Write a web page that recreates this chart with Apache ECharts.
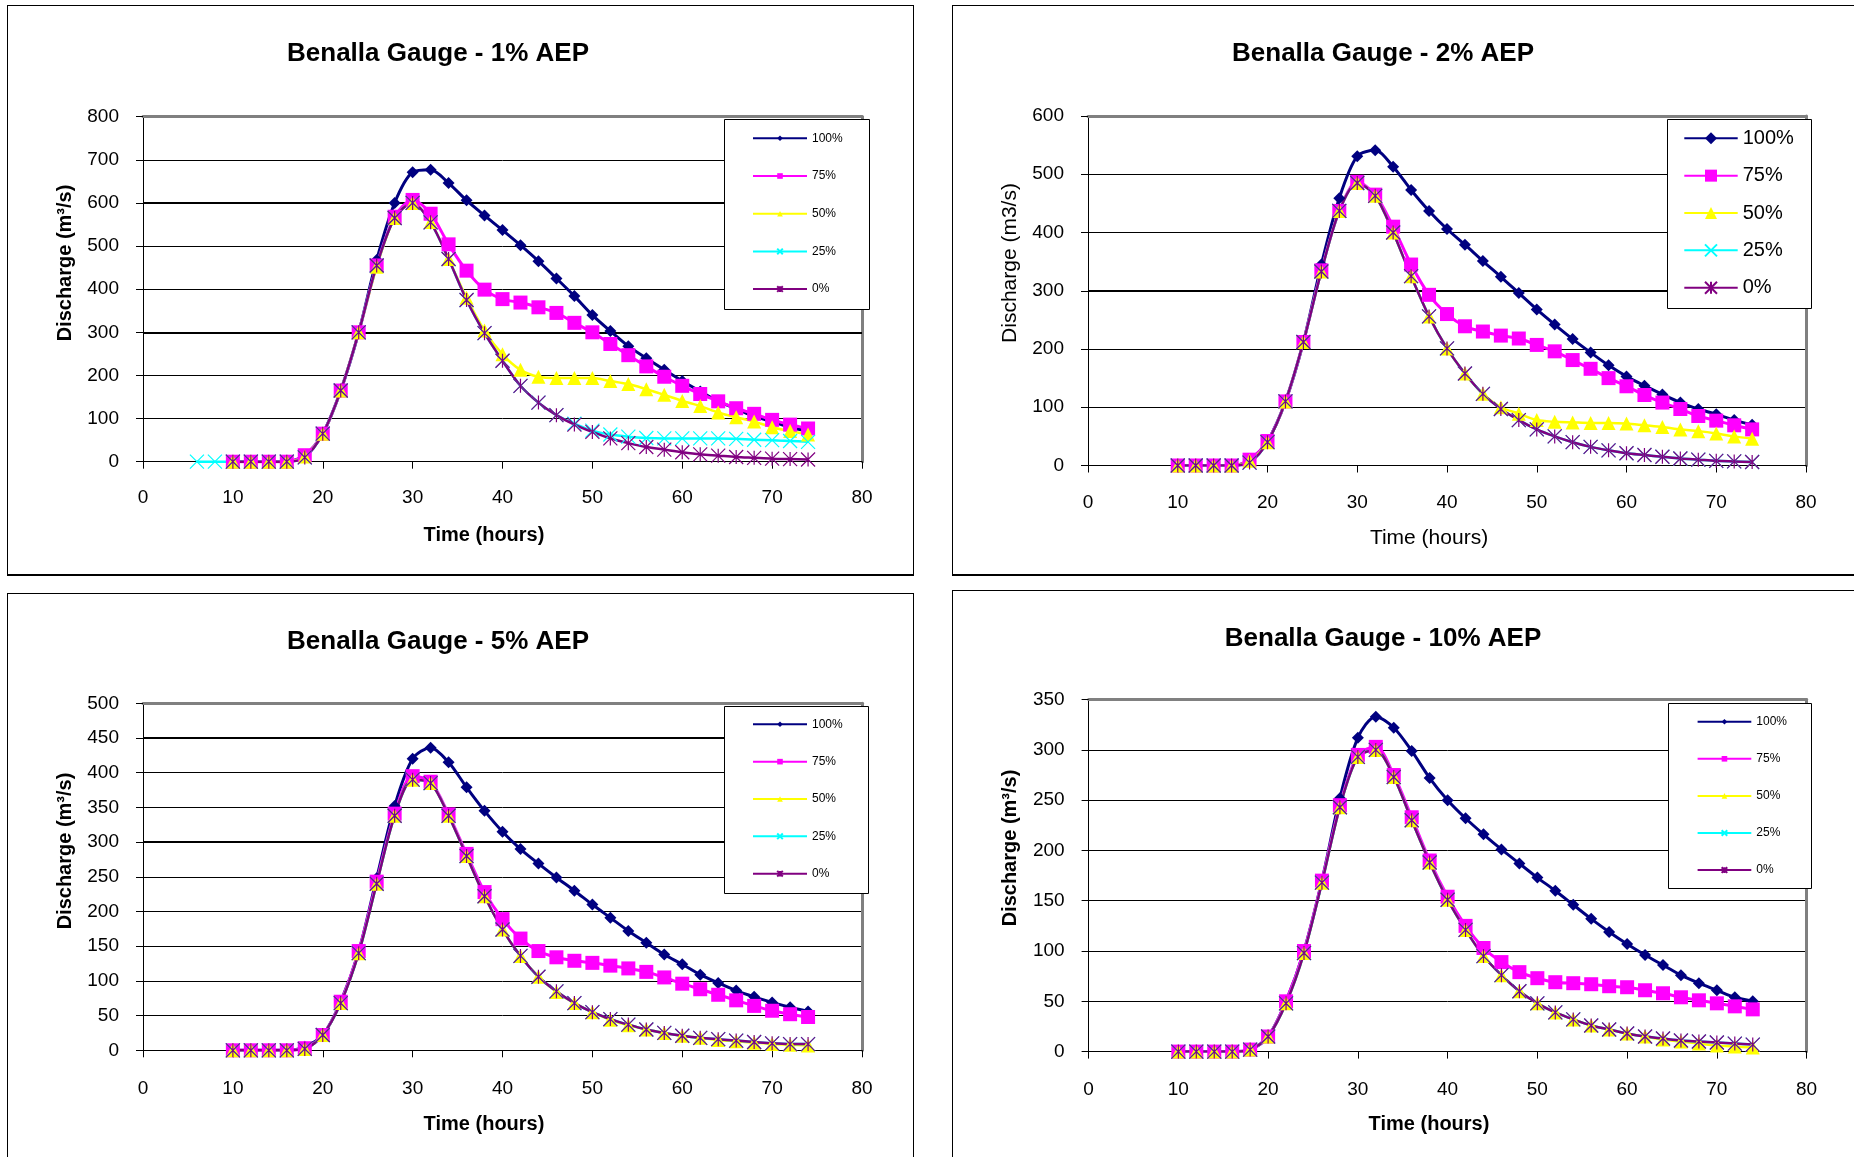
<!DOCTYPE html>
<html>
<head>
<meta charset="utf-8">
<title>Benalla Gauge hydrographs</title>
<script src="https://cdn.jsdelivr.net/npm/echarts@6/dist/echarts.min.js"></script>
<style>
  html, body { margin: 0; padding: 0; background: #fff; width: 1854px; height: 1157px; overflow: hidden; }
  .chart-box { position: absolute; border: 1px solid #000; background: #fff; }
  .chart-box.upper { border-bottom-width: 2px; }
</style>
</head>
<body>
<div id="c1" class="chart-box upper" style="left:7px;top:5px;width:905px;height:568px"></div>
<div id="c2" class="chart-box upper" style="left:952px;top:5px;width:905px;height:568px"></div>
<div id="c3" class="chart-box" style="left:7px;top:593px;width:905px;height:570px"></div>
<div id="c4" class="chart-box" style="left:952px;top:590px;width:905px;height:570px"></div>
<script>
// time axis (hours)
const hours = [10, 12, 14, 16, 18, 20, 22, 24, 26, 28, 30, 32, 34, 36, 38, 40, 42, 44, 46, 48, 50, 52, 54, 56, 58, 60, 62, 64, 66, 68, 70, 72, 74]
const hoursFrom6 = [6, 8, 10, 12, 14, 16, 18, 20, 22, 24, 26, 28, 30, 32, 34, 36, 38, 40, 42, 44, 46, 48, 50, 52, 54, 56, 58, 60, 62, 64, 66, 68, 70, 72, 74]

const chartTitles = ['Benalla Gauge - 1% AEP', 'Benalla Gauge - 2% AEP', 'Benalla Gauge - 5% AEP', 'Benalla Gauge - 10% AEP']
const seriesNames = ['100%', '75%', '50%', '25%', '0%']

// 1% AEP discharge (m3/s)
const aep1_100 = [0, 0, 0, 0, 15, 65, 165, 300, 468, 600, 671, 677, 646, 606, 571, 537, 502, 465, 425, 384, 340, 303, 268, 240, 213, 187, 163, 140, 123, 105, 93, 80, 71]
const aep1_75 = [0, 0, 0, 0, 15, 65, 165, 300, 455, 568, 607, 575, 504, 443, 399, 377, 369, 358, 345, 322, 300, 273, 247, 221, 197, 176, 157, 140, 124, 111, 97, 86, 77]
const aep1_50 = [0, 0, 0, 0, 12, 65, 165, 300, 452, 565, 600, 556, 470, 380, 304, 249, 213, 197, 194, 194, 194, 187, 180, 168, 155, 141, 129, 114, 103, 93, 80, 71, 63]
const aep1_25 = [0, 0, 0, 0, 0, 0, 10, 65, 165, 300, 455, 565, 600, 555, 470, 375, 298, 234, 176, 137, 108, 88, 72, 63, 58, 55, 54, 54, 54, 54, 53, 51, 50, 48, 46]
const aep1_0 = [0, 0, 0, 0, 10, 65, 165, 300, 455, 565, 600, 555, 470, 375, 298, 234, 176, 137, 108, 86, 69, 54, 43, 34, 28, 22, 17, 14, 11, 9, 7, 6, 5]

// 2% AEP
const aep2_100 = [0, 0, 0, 0, 10, 42, 110, 212, 345, 459, 531, 541, 513, 473, 437, 406, 379, 351, 324, 296, 268, 242, 217, 194, 172, 153, 137, 122, 108, 97, 88, 78, 70]
const aep2_75 = [0, 0, 0, 0, 10, 42, 110, 212, 335, 437, 487, 465, 410, 345, 293, 260, 239, 230, 223, 218, 207, 196, 181, 166, 150, 136, 121, 108, 97, 85, 77, 69, 62]
const aep2_50 = [0, 0, 0, 0, 8, 40, 110, 212, 333, 437, 485, 463, 400, 325, 256, 201, 158, 123, 100, 89, 78, 75, 74, 73, 73, 72, 69, 66, 62, 59, 55, 50, 46]
const aep2_25 = [0, 0, 0, 0, 5, 40, 110, 212, 333, 437, 485, 463, 400, 325, 256, 201, 158, 123, 97, 78, 62, 50, 40, 32, 26, 21, 18, 15, 12, 10, 8, 7, 6]
const aep2_0 = [0, 0, 0, 0, 5, 40, 110, 212, 333, 437, 485, 463, 400, 325, 256, 201, 158, 123, 97, 78, 62, 50, 40, 32, 26, 21, 18, 15, 12, 10, 8, 7, 6]

// 5% AEP
const aep5_100 = [0, 0, 0, 0, 5, 22, 70, 142, 248, 352, 420, 436, 415, 379, 345, 315, 290, 269, 249, 230, 210, 191, 172, 155, 138, 124, 109, 97, 86, 77, 69, 62, 56]
const aep5_75 = [0, 0, 0, 0, 3, 22, 70, 143, 243, 341, 395, 387, 340, 283, 228, 189, 161, 143, 134, 129, 126, 122, 118, 113, 105, 96, 88, 80, 72, 64, 57, 52, 48]
const aep5_50 = [0, 0, 0, 0, 2, 22, 68, 140, 240, 338, 390, 385, 338, 280, 222, 174, 136, 106, 84, 68, 55, 44, 36, 30, 25, 21, 18, 15, 13, 11, 9, 8, 7]
const aep5_25 = [0, 0, 0, 0, 2, 22, 68, 140, 240, 338, 390, 385, 338, 280, 222, 174, 136, 106, 85, 68, 55, 45, 37, 30, 25, 21, 18, 16, 14, 12, 10, 9, 9]
const aep5_0 = [0, 0, 0, 0, 2, 22, 68, 140, 240, 338, 390, 385, 338, 280, 222, 174, 136, 106, 85, 68, 55, 45, 37, 30, 25, 21, 18, 16, 14, 12, 10, 9, 9]

// 10% AEP
const aep10_100 = [0, 0, 0, 0, 2, 15, 50, 100, 170, 252, 312, 333, 322, 299, 272, 250, 232, 216, 201, 187, 173, 160, 146, 132, 119, 107, 96, 86, 76, 68, 61, 54, 50]
const aep10_75 = [0, 0, 0, 0, 2, 15, 50, 100, 170, 245, 295, 303, 275, 233, 190, 154, 125, 103, 89, 79, 73, 69, 68, 67, 65, 64, 61, 58, 54, 51, 48, 45, 42]
const aep10_50 = [0, 0, 0, 0, 2, 15, 48, 98, 168, 243, 293, 300, 273, 230, 188, 151, 121, 95, 76, 60, 48, 39, 32, 26, 22, 18, 15, 12, 10, 8, 6, 5, 4]
const aep10_25 = [0, 0, 0, 0, 2, 15, 48, 98, 168, 243, 293, 300, 273, 230, 188, 151, 121, 95, 76, 60, 48, 39, 32, 26, 22, 18, 15, 13, 11, 10, 9, 8, 7]
const aep10_0 = [0, 0, 0, 0, 2, 15, 48, 98, 168, 243, 293, 300, 273, 230, 188, 151, 121, 95, 76, 60, 48, 39, 32, 26, 22, 18, 15, 13, 11, 10, 9, 8, 7]

const FONT = 'Arial, "Liberation Sans", sans-serif'
const SYMBOL_X = 'path://M0,0L10,10M10,0L0,10'
const SYMBOL_STAR = 'path://M0,0L10,10M10,0L0,10M5,0L5,10'

const seriesStyles = [
  { color: '#000080', symbol: 'diamond', size: 12, width: 3 },
  { color: '#ff00ff', symbol: 'rect', size: 14, width: 3 },
  { color: '#ffff00', symbol: 'triangle', size: 14, width: 2.5 },
  { color: '#00ffff', symbol: SYMBOL_X, size: 14, width: 2.5, stroke: 1.2 },
  { color: '#800080', symbol: SYMBOL_STAR, size: 14, width: 2.5, stroke: 1.2 }
]

const charts = [
  {
    el: 'c1', title: chartTitles[0], yMax: 800, yStep: 100,
    xs: [hours, hours, hours, hoursFrom6, hours],
    ys: [aep1_100, aep1_75, aep1_50, aep1_25, aep1_0],
    grid: { left: 135, top: 110.7, width: 719, height: 345 },
    heavyLines: [600, 300],
    yName: 'Discharge (m³/s)', bold: true, xNameY: 529, labelGap: 27,
    legendBox: [716.5, 113.5, 145, 190],
    legend: { left: 744, top: 125.3, itemWidth: 54, itemHeight: 7, itemGap: 23.7, fontSize: 12, lineHeight: 14 }
  },
  {
    el: 'c2', title: chartTitles[1], yMax: 600, yStep: 100,
    xs: [hours, hours, hours, hours, hours],
    ys: [aep2_100, aep2_75, aep2_50, aep2_25, aep2_0],
    grid: { left: 135, top: 110, width: 718, height: 349.5 },
    heavyLines: [300],
    yName: 'Discharge (m3/s)', bold: false, xNameY: 532, labelGap: 28,
    legendBox: [714.5, 113.5, 144, 189],
    legend: { left: 730.3, top: 122.3, itemWidth: 53.4, itemHeight: 15, itemGap: 17.35, fontSize: 20, lineHeight: 20 }
  },
  {
    el: 'c3', title: chartTitles[2], yMax: 500, yStep: 50,
    xs: [hours, hours, hours, hours, hours],
    ys: [aep5_100, aep5_75, aep5_50, aep5_25, aep5_0],
    grid: { left: 135, top: 109.3, width: 719, height: 347 },
    heavyLines: [450, 300],
    yName: 'Discharge (m³/s)', bold: true, xNameY: 530, labelGap: 28.5,
    legendBox: [716.5, 112.5, 144, 187],
    legend: { left: 744, top: 123.3, itemWidth: 54, itemHeight: 7, itemGap: 23.35, fontSize: 12, lineHeight: 14 }
  },
  {
    el: 'c4', title: chartTitles[3], yMax: 350, yStep: 50,
    xs: [hours, hours, hours, hours, hours],
    ys: [aep10_100, aep10_75, aep10_50, aep10_25, aep10_0],
    grid: { left: 135.6, top: 108.6, width: 718, height: 352 },
    heavyLines: [],
    yName: 'Discharge (m³/s)', bold: true, xNameY: 533, labelGap: 28.5,
    legendBox: [715.5, 112.5, 143, 185],
    legend: { left: 743.6, top: 123.7, itemWidth: 53.7, itemHeight: 7, itemGap: 23.1, fontSize: 12, lineHeight: 14 }
  }
]

function buildOption(c) {
  const series = seriesNames.map((name, i) => {
    const s = seriesStyles[i]
    return {
      name,
      type: 'line',
      data: c.xs[i].map((h, k) => [h, c.ys[i][k]]),
      smooth: 0.3,
      symbol: s.symbol,
      symbolSize: s.size,
      color: s.color,
      lineStyle: { color: s.color, width: s.width },
      itemStyle: s.stroke
        ? { color: s.color, borderColor: s.color, borderWidth: s.stroke }
        : { color: s.color, borderWidth: 0 },
      emphasis: { disabled: true }
    }
  })

  // the heavier looking gridlines of the scanned original
  series.unshift({
    type: 'line',
    data: [],
    silent: true,
    markLine: {
      z: 1,
      silent: true,
      symbol: 'none',
      label: { show: false },
      lineStyle: { color: '#000', width: 2, type: 'solid' },
      data: c.heavyLines.map((v) => ({ yAxis: v }))
    }
  })

  const weight = c.bold ? 'bold' : 'normal'

  return {
    animation: false,
    grid: { ...c.grid, outerBoundsMode: 'none' },
    xAxis: [
      {
        type: 'value', min: 0, max: 80, interval: 10,
        axisLine: { show: true, onZero: false, lineStyle: { color: '#000', width: 1 } },
        axisTick: { show: true, length: 7, lineStyle: { color: '#000' } },
        axisLabel: { color: '#000', fontSize: 19, fontFamily: FONT, margin: c.labelGap },
        splitLine: { show: false }
      },
      {
        type: 'value', min: 0, max: 80, position: 'top',
        axisLine: { show: true, onZero: false, lineStyle: { color: '#808080', width: 3 } },
        axisTick: { show: false }, axisLabel: { show: false }, splitLine: { show: false }
      }
    ],
    yAxis: [
      {
        type: 'value', min: 0, max: c.yMax, interval: c.yStep,
        axisLine: { show: true, onZero: false, lineStyle: { color: '#000', width: 1 } },
        axisTick: { show: true, length: 7, lineStyle: { color: '#000' } },
        axisLabel: { color: '#000', fontSize: 19, fontFamily: FONT, margin: 24 },
        splitLine: { show: true, lineStyle: { color: '#000', width: 1 } }
      },
      {
        type: 'value', min: 0, max: c.yMax, position: 'right',
        axisLine: { show: true, onZero: false, lineStyle: { color: '#808080', width: 3 } },
        axisTick: { show: false }, axisLabel: { show: false }, splitLine: { show: false }
      }
    ],
    legend: {
      data: seriesNames,
      orient: 'vertical',
      left: c.legend.left,
      top: c.legend.top,
      padding: 0,
      itemWidth: c.legend.itemWidth,
      itemHeight: c.legend.itemHeight,
      itemGap: c.legend.itemGap,
      selectedMode: false,
      textStyle: { color: '#000', fontSize: c.legend.fontSize, lineHeight: c.legend.lineHeight, fontFamily: FONT }
    },
    graphic: [
      {
        type: 'rect', z: 3, silent: true,
        shape: { x: c.legendBox[0], y: c.legendBox[1], width: c.legendBox[2], height: c.legendBox[3] },
        style: { fill: '#fff', stroke: '#000', lineWidth: 1 }
      },
      {
        type: 'text', x: 430, y: 47.5,
        style: { text: c.title, fontSize: 26, fontWeight: 'bold', fontFamily: FONT, fill: '#000', align: 'center', verticalAlign: 'middle' }
      },
      {
        type: 'text', x: 57, y: 257, rotation: Math.PI / 2,
        style: { text: c.yName, fontSize: c.bold ? 20 : 21, fontWeight: weight, fontFamily: FONT, fill: '#000', align: 'center', verticalAlign: 'middle' }
      },
      {
        type: 'text', x: 476, y: c.xNameY,
        style: { text: 'Time (hours)', fontSize: c.bold ? 20 : 21, fontWeight: weight, fontFamily: FONT, fill: '#000', align: 'center', verticalAlign: 'middle' }
      }
    ],
    series
  }
}

charts.forEach((c) => {
  const chart = echarts.init(document.getElementById(c.el), null, { renderer: 'canvas' })
  chart.setOption(buildOption(c))
})
</script>
</body>
</html>
